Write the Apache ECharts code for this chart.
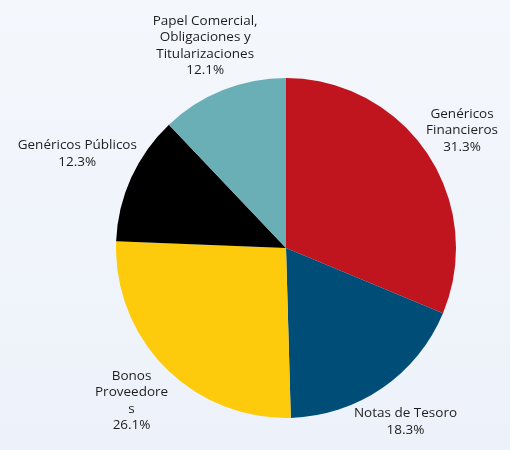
<!DOCTYPE html>
<html><head><meta charset="utf-8">
<script src="https://cdn.jsdelivr.net/npm/echarts@6/dist/echarts.min.js"></script>
<style>html,body{margin:0;padding:0;}#c{width:510px;height:450px;}</style>
</head><body><div id="c"></div>
<script>
const categories = ["Genéricos\nFinancieros", "Notas de Tesoro", "Bonos\nProveedore\ns", "Genéricos Públicos", "Papel Comercial,\nObligaciones y\nTitularizaciones"];
const values = [31.3, 18.3, 26.1, 12.3, 12.1];
const colors = ["#C0141E", "#004E78", "#FDCB0C", "#000000", "#6BAFB6"];

const GAP = -2;
const chart = echarts.init(document.getElementById('c'));
chart.setOption({
  backgroundColor: {type:'linear', x:0, y:0, x2:0, y2:1, colorStops:[{offset:0,color:'#F4F7FC'},{offset:1,color:'#EDF2FA'}]},
  animation:false,
  series:[{
    type:'pie',
    left:-200, right:-200, top:0, bottom:0,
    center:[486,248],
    radius:170,
    startAngle:90,
    clockwise:true,
    data: categories.map((n,i)=>({name:n, value:values[i], itemStyle:{color:colors[i]}})),
    label:{show:true, position:'outside', formatter: p => p.name + '\n' + p.value.toFixed(1) + '%', fontFamily:'Open Sans', fontSize:13.5, color:'#1e1e1e', lineHeight:16.5},
    labelLine:{show:true, length:10, length2:0, lineStyle:{opacity:0}},
    labelLayout: function (params) {
      const pts = params.labelLinePoints;
      if (!pts) return {};
      const p0 = pts[0], p1 = pts[1];
      let dx = p1[0]-p0[0], dy = p1[1]-p0[1];
      const len = Math.hypot(dx, dy) || 1;
      dx /= len; dy /= len;
      const w = params.labelRect.width, h = params.labelRect.height;
      const d = GAP + Math.abs(dx)*w/2 + Math.abs(dy)*h/2;
      return {x: p0[0] + dx*d, y: p0[1] + dy*d, align:'center', verticalAlign:'middle'};
    },
    itemStyle:{borderWidth:0}
  }]
});
</script></body></html>
